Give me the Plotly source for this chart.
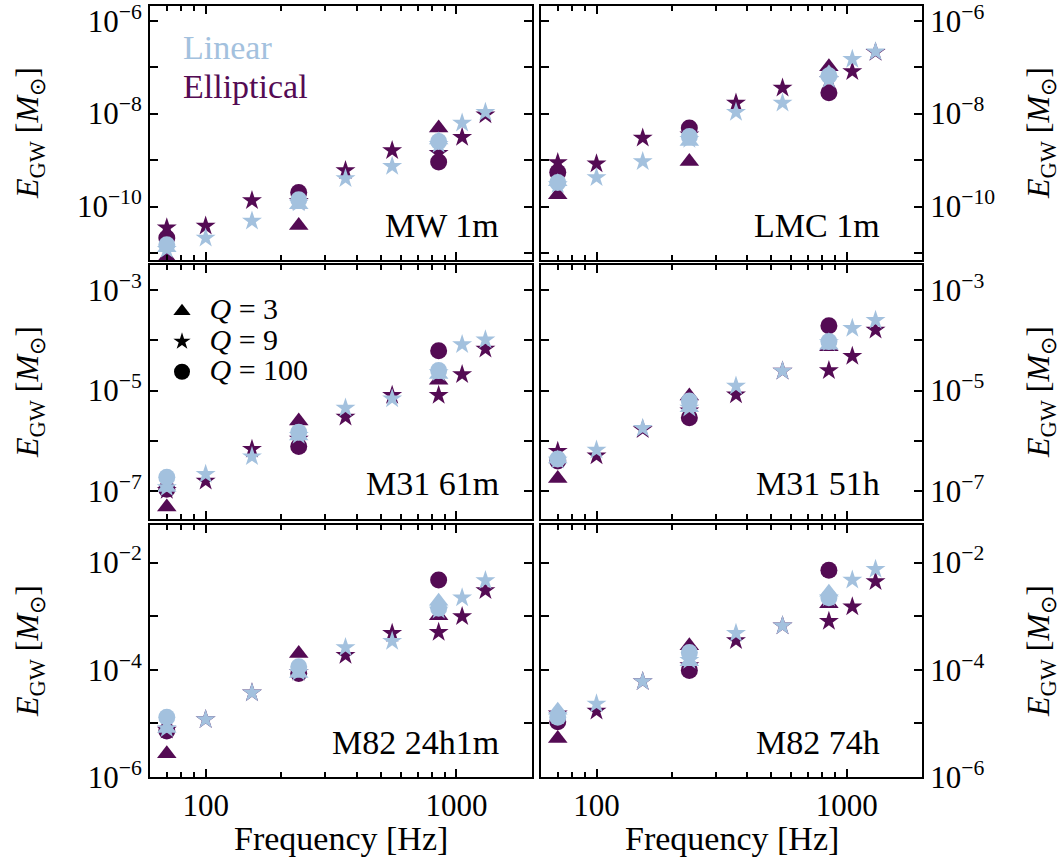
import numpy as np
import plotly.graph_objects as go

# Injection frequencies [Hz]
FREQS_Q9 = [70, 100, 153, 235, 361, 554, 849, 1053, 1304]
FREQS_Q3_Q100 = [70, 235, 849]

# Radiated GW energy [M_sun] per panel, polarisation and quality factor Q
# --- MW 1m
mw1m_ell_q3 = [8.0e-12, 3.9e-11, 4.9e-9]
mw1m_ell_q9 = [3.5e-11, 3.8e-11, 1.35e-10, 1.3e-10, 6.0e-10, 1.6e-9, 1.4e-9, 3.1e-9, 9.5e-9]
mw1m_ell_q100 = [2.1e-11, 2.0e-10, 9.1e-10]
mw1m_lin_q3 = [1.3e-11, 1.1e-10, 2.7e-9]
mw1m_lin_q9 = [1.2e-11, 2.1e-11, 4.9e-11, 1.2e-10, 4.0e-10, 7.4e-10, 2.2e-9, 6.3e-9, 1.07e-8]
mw1m_lin_q100 = [1.5e-11, 1.4e-10, 2.5e-9]
# --- LMC 1m
lmc1m_ell_q3 = [1.8e-10, 9.3e-10, 1.02e-7]
lmc1m_ell_q9 = [8.9e-10, 8.3e-10, 3.0e-9, 3.5e-9, 1.7e-8, 3.55e-8, 5.5e-8, 8.1e-8, 2.1e-7]
lmc1m_ell_q100 = [5.5e-10, 4.9e-9, 2.8e-8]
lmc1m_lin_q3 = [3.4e-10, 2.5e-9, 7.5e-8]
lmc1m_lin_q9 = [3.0e-10, 4.2e-10, 9.3e-10, 2.8e-9, 1.07e-8, 1.7e-8, 5.5e-8, 1.48e-7, 2.15e-7]
lmc1m_lin_q100 = [3.3e-10, 3.2e-9, 6.5e-8]
# --- M31 61m
m31_61m_ell_q3 = [4.9e-8, 2.5e-6, 1.6e-5]
m31_61m_ell_q9 = [1.05e-7, 1.6e-7, 6.9e-7, 1.1e-6, 3.0e-6, 8.1e-6, 8.1e-6, 2.1e-5, 6.7e-5]
m31_61m_ell_q100 = [1.1e-7, 7.8e-7, 6.2e-5]
m31_61m_lin_q3 = [1.2e-7, 1.26e-6, 2.1e-5]
m31_61m_lin_q9 = [1.2e-7, 2.2e-7, 4.9e-7, 1.3e-6, 4.5e-6, 6.9e-6, 2.3e-5, 8.2e-5, 1.02e-4]
m31_61m_lin_q100 = [1.9e-7, 1.5e-6, 2.5e-5]
# --- M31 51h
m31_51h_ell_q3 = [1.8e-7, 7.8e-6, 7.4e-5]
m31_51h_ell_q9 = [6.3e-7, 5.1e-7, 1.7e-6, 4.0e-6, 8.3e-6, 2.45e-5, 2.5e-5, 4.8e-5, 1.6e-4]
m31_51h_ell_q100 = [4.0e-7, 2.9e-6, 1.95e-4]
m31_51h_lin_q3 = [4.4e-7, 4.6e-6, 8.0e-5]
m31_51h_lin_q9 = [4.2e-7, 6.6e-7, 1.8e-6, 4.5e-6, 1.23e-5, 2.45e-5, 9.0e-5, 1.74e-4, 2.5e-4]
m31_51h_lin_q100 = [4.4e-7, 6.2e-6, 9.5e-5]
# --- M82 24h1m
m82_24h_ell_q3 = [2.7e-6, 2.0e-4, 1.02e-3]
m82_24h_ell_q9 = [7.5e-6, 1.17e-5, 3.7e-5, 9.0e-5, 1.85e-4, 4.8e-4, 5.0e-4, 9.8e-4, 3.0e-3]
m82_24h_ell_q100 = [7.2e-6, 8.5e-5, 4.7e-3]
m82_24h_lin_q3 = [8.0e-6, 8.5e-5, 1.9e-3]
m82_24h_lin_q9 = [8.0e-6, 1.17e-5, 3.7e-5, 9.0e-5, 2.6e-4, 3.4e-4, 1.3e-3, 2.2e-3, 4.6e-3]
m82_24h_lin_q100 = [1.3e-5, 1.13e-4, 1.4e-3]
# --- M82 74h
m82_74h_ell_q3 = [5.2e-6, 2.8e-4, 1.7e-3]
m82_74h_ell_q9 = [1.5e-5, 1.7e-5, 6.0e-5, 1.2e-4, 3.5e-4, 6.6e-4, 8.0e-4, 1.5e-3, 4.4e-3]
m82_74h_ell_q100 = [1.07e-5, 9.7e-5, 7.2e-3]
m82_74h_lin_q3 = [1.75e-5, 1.4e-4, 2.8e-3]
m82_74h_lin_q9 = [1.4e-5, 2.3e-5, 6.0e-5, 1.5e-4, 4.8e-4, 6.6e-4, 2.2e-3, 4.7e-3, 7.5e-3]
m82_74h_lin_q100 = [1.3e-5, 2.1e-4, 2.2e-3]

PANEL_LABELS = ["MW 1m", "LMC 1m", "M31 61m", "M31 51h", "M82 24h1m", "M82 74h"]
PANEL_DATA = [
    (mw1m_ell_q3, mw1m_ell_q9, mw1m_ell_q100, mw1m_lin_q3, mw1m_lin_q9, mw1m_lin_q100),
    (lmc1m_ell_q3, lmc1m_ell_q9, lmc1m_ell_q100, lmc1m_lin_q3, lmc1m_lin_q9, lmc1m_lin_q100),
    (m31_61m_ell_q3, m31_61m_ell_q9, m31_61m_ell_q100, m31_61m_lin_q3, m31_61m_lin_q9, m31_61m_lin_q100),
    (m31_51h_ell_q3, m31_51h_ell_q9, m31_51h_ell_q100, m31_51h_lin_q3, m31_51h_lin_q9, m31_51h_lin_q100),
    (m82_24h_ell_q3, m82_24h_ell_q9, m82_24h_ell_q100, m82_24h_lin_q3, m82_24h_lin_q9, m82_24h_lin_q100),
    (m82_74h_ell_q3, m82_74h_ell_q9, m82_74h_ell_q100, m82_74h_lin_q3, m82_74h_lin_q9, m82_74h_lin_q100),
]

# y-axis decade ranges (log10) for each row
ROW_YRANGE = [(-11.15, -5.684), (-7.548, -2.506), (-6.003, -1.30)]
ROW_LABELLED_EXP = [(-6, -8, -10), (-3, -5, -7), (-2, -4, -6)]
X_MAJOR = [100, 1000]
X_MINOR = [70, 80, 90, 200, 300, 400, 500, 600, 700, 800, 900, 2000]

LIN = "#a3c1de"
ELL = "#540b54"
FONT = "Liberation Serif"

W, H = 1063, 867
COL_X = [(150, 532), (541, 922)]
ROW_Y = [(6, 260), (265, 519), (525, 777)]

fig = go.Figure()

sym = {"q3": "triangle-up", "q9": "star", "q100": "circle"}
size = {"q3": 17, "q9": 15, "q100": 17}

for i, data in enumerate(PANEL_DATA):
    ax = "" if i == 0 else str(i + 1)
    e3, e9, e100, l3, l9, l100 = data
    series = [
        (ELL, "q3", FREQS_Q3_Q100, e3),
        (ELL, "q9", FREQS_Q9, e9),
        (ELL, "q100", FREQS_Q3_Q100, e100),
        (LIN, "q3", FREQS_Q3_Q100, l3),
        (LIN, "q9", FREQS_Q9, l9),
        (LIN, "q100", FREQS_Q3_Q100, l100),
    ]
    for color, q, fx, vals in series:
        fig.add_trace(go.Scatter(
            x=fx, y=vals, mode="markers", showlegend=False,
            marker=dict(symbol=sym[q], size=size[q], color=color, line=dict(width=0)),
            xaxis="x" + ax, yaxis="y" + ax, hoverinfo="skip",
        ))

# Q key (black markers) shown in the legend
key_size = {"q3": 15, "q9": 13, "q100": 16}
for q, name in [("q3", "3"), ("q9", "9"), ("q100", "100")]:
    fig.add_trace(go.Scatter(
        x=[None], y=[None], mode="markers",
        name=f'<span style="font-size:30px"> <i>Q</i> = {name}</span>',
        marker=dict(symbol=sym[q], size=key_size[q], color="black"),
        xaxis="x3", yaxis="y3",
    ))

layout = dict(
    width=W, height=H,
    margin=dict(l=0, r=0, t=0, b=0),
    paper_bgcolor="white", plot_bgcolor="white",
    font=dict(family=FONT, size=31, color="black"),
    legend=dict(
        x=162 / W, y=1 - 291 / H, xanchor="left", yanchor="top",
        bgcolor="rgba(0,0,0,0)", borderwidth=0,
        font=dict(family=FONT, size=21), itemsizing="trace",
        tracegroupgap=0,
    ),
    annotations=[],
)

for i in range(6):
    r, c = divmod(i, 2)
    ax = "" if i == 0 else str(i + 1)
    x0, x1 = COL_X[c]
    y0, y1 = ROW_Y[r]
    lo, hi = ROW_YRANGE[r]
    decades = list(range(int(np.ceil(lo)), int(np.floor(hi)) + 1))
    yvals = [10.0 ** d for d in decades]
    ytext = [f"10<sup>\u2212{-d}</sup>" if d in ROW_LABELLED_EXP[r] else "" for d in decades]
    layout["xaxis" + ax] = dict(
        type="log", range=[np.log10(60), np.log10(2000)],
        domain=[x0 / W, x1 / W], anchor="y" + ax,
        tickvals=X_MAJOR, ticktext=["100", "1000"],
        ticks="inside", ticklen=8, tickwidth=1.5, tickcolor="black",
        minor=dict(tickvals=X_MINOR, ticks="inside", ticklen=5, tickwidth=1.5, tickcolor="black"),
        showline=True, linecolor="black", linewidth=2, mirror="ticks",
        showgrid=False, zeroline=False, showticklabels=(r == 2),
        tickfont=dict(family=FONT, size=31), automargin=False,
        ticklabeloverflow="allow",
    )
    layout["yaxis" + ax] = dict(
        type="log", range=[lo, hi],
        domain=[1 - y1 / H, 1 - y0 / H], anchor="x" + ax,
        side="left" if c == 0 else "right",
        tickvals=yvals, ticktext=ytext,
        ticks="inside", ticklen=8, tickwidth=1.5, tickcolor="black",
        showline=True, linecolor="black", linewidth=2, mirror="ticks",
        showgrid=False, zeroline=False,
        tickfont=dict(family=FONT, size=31), automargin=False,
        ticklabeloverflow="allow",
    )
    # panel label
    layout["annotations"].append(dict(
        text=PANEL_LABELS[i], xref=f"x{ax} domain", yref=f"y{ax} domain",
        x=1 - (31 if c == 0 else 40) / 382, y=35 / 254,
        xanchor="right", yanchor="middle", showarrow=False,
        font=dict(family=FONT, size=34, color="black"),
    ))
    # y-axis title
    layout["annotations"].append(dict(
        text="<i>E</i><sub>GW</sub> [<i>M</i><sub>\u2299</sub>]",
        xref="paper", yref="paper",
        x=(29 if c == 0 else 1040) / W, y=1 - (y0 + y1) / 2 / H,
        xanchor="center", yanchor="middle", textangle=-90, showarrow=False,
        font=dict(family=FONT, size=32, color="black"),
    ))

# x-axis titles
for c in range(2):
    x0, x1 = COL_X[c]
    layout["annotations"].append(dict(
        text="Frequency [Hz]", xref="paper", yref="paper",
        x=(x0 + x1) / 2 / W, y=1 - 838 / H, xanchor="center", yanchor="middle",
        showarrow=False, font=dict(family=FONT, size=34, color="black"),
    ))

# polarisation key
layout["annotations"].append(dict(
    text="Linear", xref="paper", yref="paper", x=181 / W, y=1 - 48 / H,
    xanchor="left", yanchor="middle", showarrow=False,
    font=dict(family=FONT, size=34, color=LIN),
))
layout["annotations"].append(dict(
    text="Elliptical", xref="paper", yref="paper", x=181 / W, y=1 - 87 / H,
    xanchor="left", yanchor="middle", showarrow=False,
    font=dict(family=FONT, size=34, color=ELL),
))

fig.update_layout(**layout)
fig.write_html("out.html")
